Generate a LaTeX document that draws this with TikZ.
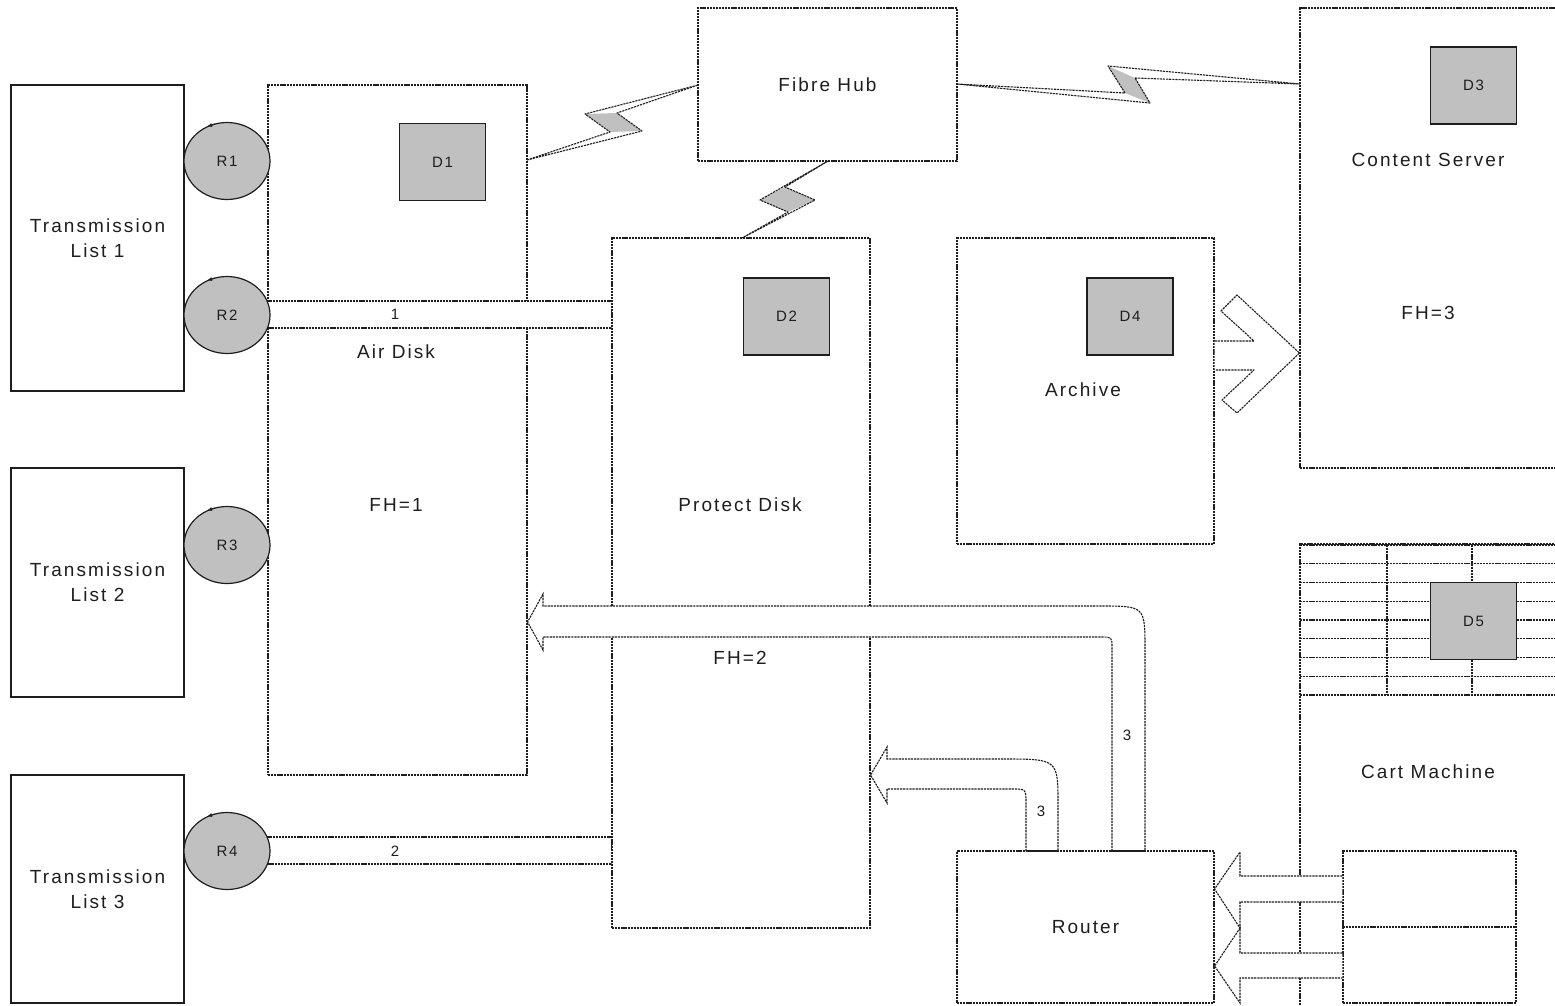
\documentclass[tikz,border=0pt]{standalone}
\usepackage{fontspec}
\setmainfont{Liberation Sans}
\newfontfamily\lblfont{Liberation Sans}[LetterSpace=11]
\usetikzlibrary{
  arrows.meta,
  shapes.geometric,
  calc
}
\definecolor{diskgray}{RGB}{192,192,192}
\definecolor{ink}{RGB}{30,30,30}

\begin{document}
\begin{tikzpicture}[
  x=1pt, y=-1pt,
  font=\lblfont\fontsize{19}{25}\selectfont, text=ink,
  area/.style={draw=ink, dash pattern=on 2.2pt off 0.9pt, line width=1.1pt, inner sep=0pt},
  listbox/.style={draw=ink, line width=1.2pt, inner sep=0pt, align=center},
  disk/.style={draw=ink, fill=diskgray, line width=1.1pt, minimum width=86, minimum height=77,
    inner sep=0pt, font=\lblfont\fontsize{15}{17}\selectfont},
  rdisk/.style={ellipse, draw=ink, fill=diskgray, line width=1.2pt, minimum width=86, minimum height=77,
    inner sep=0pt, font=\lblfont\fontsize{15}{17}\selectfont},
  pipe/.style={draw=ink, fill=white, dash pattern=on 2.2pt off 0.9pt, line width=1.1pt},
  small/.style={font=\lblfont\fontsize{15}{17}\selectfont},
  bolt/.style={draw=ink, dash pattern=on 2.2pt off 0.9pt, line width=1.1pt, line join=round}
]
\useasboundingbox (0,0) rectangle (1555,1005);
\clip (0,0) rectangle (1555,1005);

% transmission lists
\node[listbox, minimum width=173, minimum height=306] (list1) at (97.5,238) {Transmission\\List 1};
\node[listbox, minimum width=173, minimum height=229] (list2) at (97.5,582.5) {Transmission\\List 2};
\node[listbox, minimum width=173, minimum height=228] (list3) at (97.5,889) {Transmission\\List 3};

% storage areas
\node[area, minimum width=259, minimum height=690] (airdisk) at (397.5,430) {};
\node[area, minimum width=258, minimum height=690] (protect) at (741,583) {};
\node[area, minimum width=259, minimum height=153] (hub) at (827.5,84.5) {Fibre Hub};
\node[area, minimum width=257, minimum height=306] (archive) at (1085.5,391) {};
\node[area, minimum width=260, minimum height=460] (content) at (1430,238) {};
\node[area, minimum width=260, minimum height=466] (cart) at (1430,777) {};
\node[area, minimum width=257, minimum height=152] (router) at (1085.5,927) {Router};
\node[area, minimum width=173, minimum height=152] (cartbin) at (1429.5,927) {};
\draw[area] (cartbin.west) -- (cartbin.east);

% cart machine racks
\foreach \k in {0,...,8}
  \draw[area] (1300,545+\k*18.75) -- (1560,545+\k*18.75);
\foreach \x in {1387,1472}
  \draw[area] (\x,545) -- (\x,695);

% labels
\node (airlbl) at (396,352) {Air Disk};
\node (fh1) at (396,505) {FH=1};
\node (protlbl) at (740,505) {Protect Disk};
\node (fh2) at (740,658) {FH=2};
\node (contlbl) at (1428,160) {Content Server};
\node (fh3) at (1428,313) {FH=3};
\node (archlbl) at (1083,390) {Archive};
\node (cartlbl) at (1428,772) {Cart Machine};

% disks
\node[disk] (d1) at (442.5,162) {D1};
\node[disk] (d2) at (786.5,316.5) {D2};
\node[disk] (d3) at (1473.5,85.5) {D3};
\node[disk] (d4) at (1130,316.5) {D4};
\node[disk] (d5) at (1473.5,621) {D5};

% fibre links
\fill[diskgray] (610,132) -- (585,114) -- (617,113) -- (642,131) -- cycle;
\draw[bolt] (527,160) -- (642,131) -- (617,113) -- (698,85) -- (585,114) -- (610,132) -- cycle;
\fill[diskgray] (1108,66) -- (1135,78) -- (1150,103) -- (1125,93) -- cycle;
\draw[bolt] (957,84) -- (1150,103) -- (1135,78) -- (1300,84) -- (1108,66) -- (1125,93) -- cycle;
\fill[diskgray] (760,200) -- (785,187) -- (815,200) -- (788,212) -- cycle;
\draw[bolt] (828,161) -- (785,187) -- (815,200) -- (742,238) -- (788,212) -- (760,200) -- cycle;

% playout pipes
\draw[pipe] ($(airdisk.west |- 0,301)$) rectangle ($(protect.west |- 0,328)$);
\draw[pipe] ($(airdisk.west |- 0,837)$) rectangle ($(protect.west |- 0,864)$);
\node[small] (p1) at (395,314) {1};
\node[small] (p2) at (395,851) {2};

% recorders
\foreach \n/\y in {1/161,2/315,3/545,4/851}
  \node[rdisk] (r\n) at (227,\y) {R\n};
\foreach \n in {1,...,4}
  \draw[ink, line width=0.8pt, -{Latex[length=5pt,width=4pt]}] ($(r\n)+(-12,-37)$) -- ++(-8,2.5);

% archive to content server
\fill[white] (archive.east |- 0,341) -- (1254,341) -- (1221,311) -- (1237,295) -- (content.west |- 0,353)
  -- (1237,413) -- (1222,400) -- (1254,370) -- (archive.east |- 0,370) -- cycle;
\draw[bolt] (archive.east |- 0,341) -- (1254,341) -- (1221,311) -- (1237,295) -- (content.west |- 0,353)
  -- (1237,413) -- (1222,400) -- (1254,370) -- (archive.east |- 0,370);

% router feeds
\draw[pipe] (1112,851) -- (1112,648) .. controls (1112,637) .. (1101,637) -- (543,637) -- (543,650)
  -- (airdisk.east |- 0,622) -- (543,594) -- (543,606) -- (1100,606) .. controls (1145,606) .. (1145,650)
  -- (1145,851);
\draw[pipe] (1026,851) -- (1026,803) .. controls (1026,789) .. (1012,789) -- (887,789) -- (887,803)
  -- (protect.east |- 0,775) -- (887,747) -- (887,759) -- (1003,759) .. controls (1058,759) .. (1058,805)
  -- (1058,851);
\draw[ink, line width=1.4pt] (1026,851) -- (1058,851) (1112,851) -- (1145,851);
\node[small] (f3a) at (1127,735) {3};
\node[small] (f3b) at (1041,811) {3};

% cart machine to router
\draw[pipe] (cartbin.west |- 0,876) -- (1240,876) -- (1240,852) -- (router.east |- 0,889) -- (1240,928)
  -- (1240,902) -- (cartbin.west |- 0,902);
\draw[pipe] (cartbin.west |- 0,953) -- (1240,953) -- (1240,928) -- (router.east |- 0,966) -- (1240,1003)
  -- (1240,978) -- (cartbin.west |- 0,978);
\end{tikzpicture}
\end{document}
